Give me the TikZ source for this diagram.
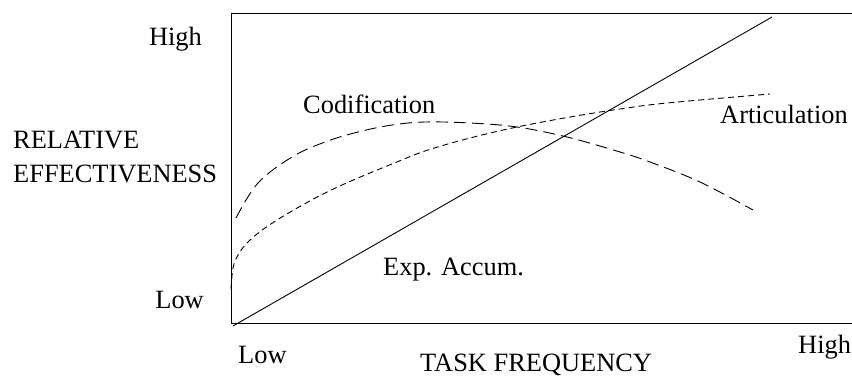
\documentclass[tikz,border=0pt]{standalone}
\usepackage{fontspec}
\setmainfont{Liberation Serif}
\begin{document}
\begin{tikzpicture}[x=1pt,y=-1pt,
  axis/.style={line width=0.9pt},
  curvelabel/.style={anchor=base west,inner sep=0pt,font=\fontsize{26.4}{30}\selectfont},
  codif/.style={line width=0.9pt,dash pattern=on 12pt off 6pt},
  artic/.style={line width=0.9pt,dash pattern=on 6pt off 4pt},
  expline/.style={line width=0.9pt}]
\useasboundingbox (0,0) rectangle (852,381);

% frame of the chart (open on the right)
\draw[axis] (852,13) -- (231,13) -- (231,323) -- (852,323);

% experience accumulation: straight rise
\draw[expline] (233,326) -- (772,17);

% codification: rises quickly, then falls off
\draw[codif] plot[smooth,tension=0.6] coordinates {
  (236,218) (258,183) (292,157) (325,142) (358,132) (392,125) (425,122)
  (470,123) (517,127) (567,137) (620,152) (650,162) (700,182) (753,210)};

% articulation: slow steady climb
\draw[artic] plot[smooth,tension=0.6] coordinates {
  (231,289) (233,268) (238,255) (248,242) (265,228) (292,211) (325,193)
  (358,178) (392,164) (425,151) (470,138) (517,127) (570,117) (620,109)
  (667,103) (770,94)};

% axis labels
\node[curvelabel,anchor=base east] (yhigh) at (202,45) {High};
\node[curvelabel,anchor=base east] (ylow) at (204,308) {Low};
\node[curvelabel] (ytitle1) at (13,148) {RELATIVE};
\node[curvelabel] (ytitle2) at (13,182) {EFFECTIVENESS};
\node[curvelabel] (xlow) at (238,363) {Low};
\node[curvelabel] (xtitle) at (420,371) {TASK FREQUENCY};
\node[curvelabel] (xhigh) at (798,353) {High};

% curve labels
\node[curvelabel] (lcodif) at (303,113) {Codification};
\node[curvelabel] (lartic) at (720,123) {Articulation};
\node[curvelabel] (lexp) at (383,275) {Exp. Accum.};
\end{tikzpicture}
\end{document}
